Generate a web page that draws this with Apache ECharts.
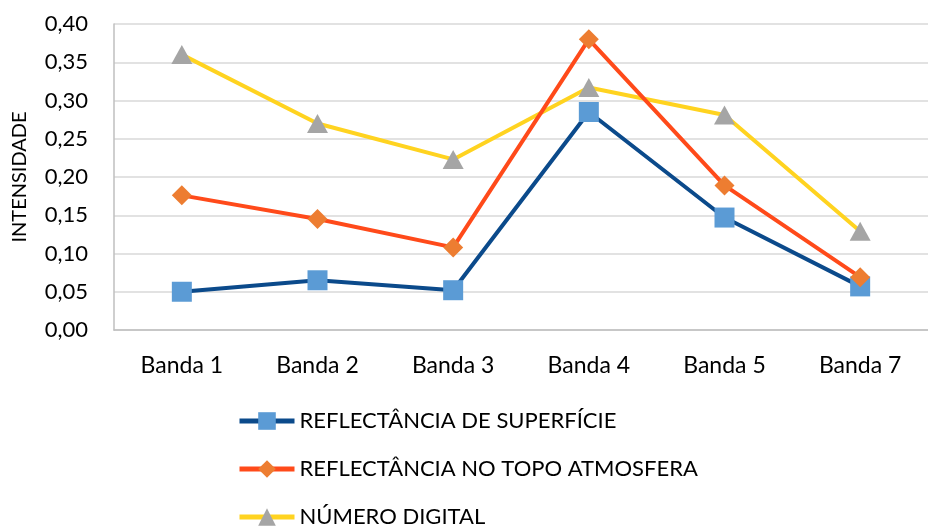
<!DOCTYPE html>
<html>
<head>
<meta charset="utf-8">
<script src="https://cdn.jsdelivr.net/npm/echarts@6/dist/echarts.min.js"></script>
<style>
  html, body { margin: 0; padding: 0; background: #fff; }
  #chart { width: 928px; height: 529px; }
</style>
</head>
<body>
<div id="chart"></div>
<script>
const bandas = ['Banda 1', 'Banda 2', 'Banda 3', 'Banda 4', 'Banda 5', 'Banda 7'];
const reflSuperficie = [0.050, 0.065, 0.052, 0.285, 0.147, 0.057];
const reflTopo = [0.176, 0.145, 0.108, 0.380, 0.189, 0.069];
const numeroDigital = [0.360, 0.270, 0.223, 0.317, 0.281, 0.129];

const FONT = 'Lato';

let myChart = echarts.init(document.getElementById('chart'));
myChart.setOption({
  animation: false,
  textStyle: { fontFamily: FONT },
  grid: {
    left: 114,
    top: 24,
    width: 822,
    height: 306,
    containLabel: false
  },
  legend: {
    orient: 'vertical',
    left: 237,
    top: 410,
    padding: 0,
    itemWidth: 55,
    itemHeight: 22,
    itemGap: 26,
    lineStyle: { width: 5 },
    textStyle: { fontFamily: FONT, fontSize: 22, color: '#000' },
    data: ['REFLECTÂNCIA DE SUPERFÍCIE', 'REFLECTÂNCIA NO TOPO ATMOSFERA', 'NÚMERO DIGITAL']
  },
  xAxis: {
    type: 'category',
    data: bandas,
    boundaryGap: true,
    axisTick: { show: false },
    axisLine: { lineStyle: { color: '#BFBFBF', width: 1.5 } },
    axisLabel: { color: '#000', fontSize: 23, margin: 24, fontFamily: FONT }
  },
  yAxis: {
    type: 'value',
    min: 0,
    max: 0.4,
    interval: 0.05,
    name: 'INTENSIDADE',
    nameLocation: 'middle',
    nameRotate: 90,
    nameGap: 84,
    nameTextStyle: { color: '#000', fontSize: 20, fontFamily: FONT },
    axisLine: { show: true, lineStyle: { color: '#BFBFBF', width: 1.5 } },
    axisTick: { show: false },
    splitLine: { lineStyle: { color: '#D9D9D9', width: 1.5 } },
    axisLabel: {
      color: '#000',
      fontSize: 22,
      margin: 26,
      fontFamily: FONT,
      formatter: function (v) {
        return v.toFixed(2).replace('.', ',');
      }
    }
  },
  series: [
    {
      name: 'REFLECTÂNCIA DE SUPERFÍCIE',
      type: 'line',
      data: reflSuperficie,
      symbol: 'rect',
      symbolSize: 20,
      lineStyle: { color: '#0B4A8B', width: 4 },
      itemStyle: { color: '#5B9BD5', borderWidth: 0 },
      z: 3
    },
    {
      name: 'REFLECTÂNCIA NO TOPO ATMOSFERA',
      type: 'line',
      data: reflTopo,
      symbol: 'diamond',
      symbolSize: [20, 20],
      lineStyle: { color: '#FF4A1A', width: 4 },
      itemStyle: { color: '#ED7D31', borderWidth: 0 },
      z: 4
    },
    {
      name: 'NÚMERO DIGITAL',
      type: 'line',
      data: numeroDigital,
      symbol: 'triangle',
      symbolSize: [21, 19],
      lineStyle: { color: '#FFD320', width: 4 },
      itemStyle: { color: '#A5A5A5', borderWidth: 0 },
      z: 2
    }
  ]
});
</script>
</body>
</html>
